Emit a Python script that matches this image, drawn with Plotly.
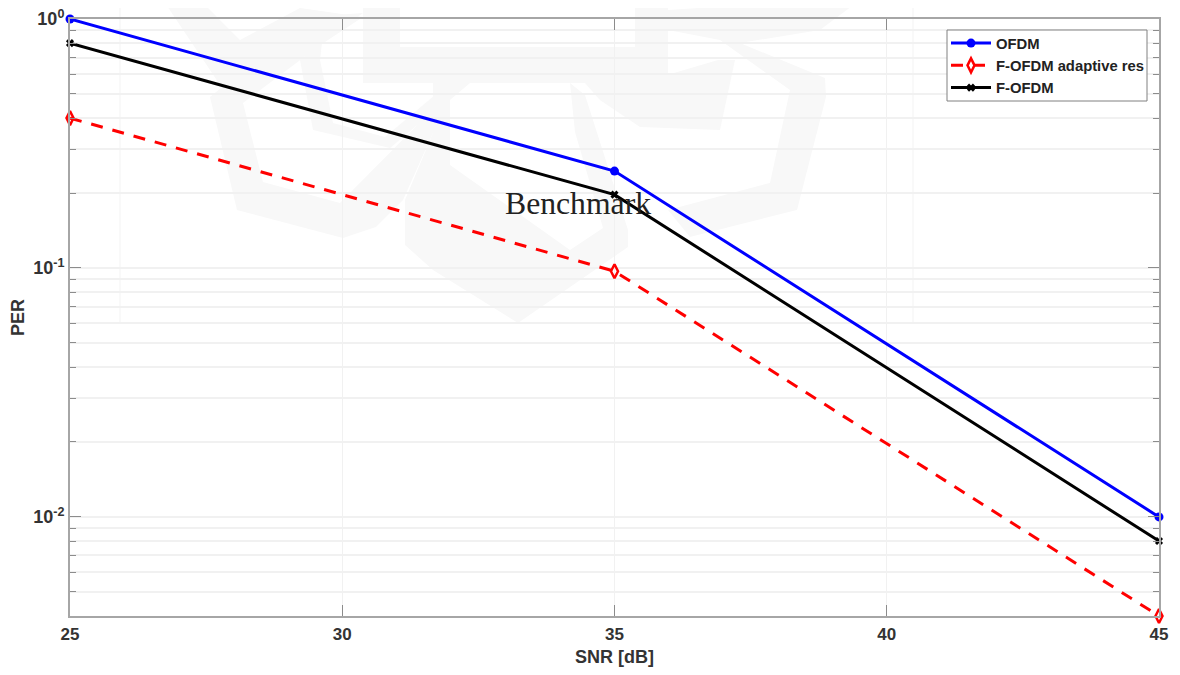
import plotly.graph_objects as go

snr = [25, 35, 45]
ofdm = [1.0, 0.245, 0.01]
f_ofdm_res = [0.40, 0.097, 0.004]
f_ofdm = [0.80, 0.197, 0.008]
x_ticks = [25, 30, 35, 40, 45]
y_ticks = [1, 0.1, 0.01]
y_labels = ["10<sup>0</sup>", "10<sup>-1</sup>", "10<sup>-2</sup>"]
names = ["OFDM", "F-OFDM adaptive res", "F-OFDM"]

W, H = 1180, 675
PAGE = 8  # the page body's own margin
L, R, T, B = 70, 1159, 19, 616
AXIS = "#a6a6a6"
TICK = "#8c8c8c"
GRID = "#f1f1f1"
WM = "#f8f8f8"
FONT = "Liberation Sans"


def px(x):
    return (x - L) / (R - L)


def py(y):
    return 1 - (y - T) / (B - T)


def poly(points):
    d = "M " + " L ".join(f"{px(x):.5f},{py(y):.5f}" for x, y in points) + " Z"
    return dict(type="path", path=d, xref="paper", yref="paper", fillcolor=WM,
                line=dict(width=0), layer="below")


# faint background emblem, traced as decoration
emblem = [
    [(163, 0), (200, 0), (240, 40), (300, 8), (363, 17), (232, 103), (210, 70)],
    [(307, 17), (363, 13), (243, 103), (263, 182), (340, 203), (447, 95), (433, 133), (403, 200), (376, 227), (343, 238), (237, 210), (210, 97)],
    [(363, 0), (400, 0), (400, 47), (635, 47), (635, 0), (668, 0), (668, 83), (363, 83)],
    [(300, 60), (322, 43), (320, 60), (333, 123), (385, 137), (447, 85), (447, 100), (390, 148), (313, 130)],
    [(433, 83), (470, 83), (450, 100), (450, 165), (570, 250), (603, 228), (575, 132), (570, 83), (585, 95), (628, 230), (628, 247), (518, 323), (433, 270), (405, 245), (405, 200), (433, 133)],
    [(668, 10), (820, 0), (860, 0), (820, 30), (740, 43), (825, 78), (826, 97), (797, 210), (690, 237), (668, 210), (770, 183), (790, 90), (720, 40), (668, 30)],
    [(585, 83), (640, 83), (718, 60), (735, 60), (720, 130), (640, 127), (600, 100)],
]

fig = go.Figure()
fig.add_trace(go.Scatter(x=snr, y=ofdm, name=names[0], mode="lines+markers",
    line=dict(color="#0000ff", width=3), cliponaxis=False,
    marker=dict(symbol="circle", size=9, color="#0000ff")))
fig.add_trace(go.Scatter(x=snr, y=f_ofdm_res, name=names[1], mode="lines+markers",
    line=dict(color="#ff0000", width=3, dash="12px,10px"), cliponaxis=False,
    marker=dict(symbol="diamond-tall-open", size=10, color="#ff0000", line=dict(width=2.5, color="#ff0000"))))
fig.add_trace(go.Scatter(x=snr, y=f_ofdm, name=names[2], mode="lines+markers",
    line=dict(color="#000000", width=3), cliponaxis=False,
    marker=dict(symbol="x-thin", size=6, color="#000000", line=dict(width=3, color="#000000"))))

fig.add_annotation(x=32.945, y=-0.743, text="Benchmark", showarrow=False, xanchor="left",
    font=dict(family="Liberation Serif", size=31.7, color="#222222"))

shapes = [poly(p) for p in emblem]
shapes += [
    dict(type="line", xref="paper", yref="paper", x0=px(120), x1=px(120), y0=py(0), y1=py(323),
         line=dict(color="#f3f3f3", width=1), layer="below"),
    dict(type="line", xref="paper", yref="paper", x0=px(913), x1=px(913), y0=py(0), y1=py(323),
         line=dict(color="#f3f3f3", width=1), layer="below"),
    dict(type="rect", xref="paper", yref="paper", x0=px(947), x1=px(1147), y0=py(30), y1=py(101),
         fillcolor="white", line=dict(color="#808080", width=1), layer="above"),
]

fig.update_layout(
    width=W - 2 * PAGE, height=H - 2 * PAGE, autosize=False, paper_bgcolor="white", plot_bgcolor="white",
    margin=dict(l=L - PAGE, r=W - PAGE - R, t=T - PAGE, b=H - PAGE - B, pad=0),
    font=dict(family=FONT, color="#333333", size=15),
    shapes=shapes,
    legend=dict(x=px(946), xanchor="left", y=py(27), yanchor="top",
        bgcolor="rgba(0,0,0,0)", borderwidth=0, itemwidth=40,
        font=dict(family=FONT, size=14.8, weight="bold", color="#222222")),
    xaxis=dict(range=[25, 45], tickvals=x_ticks, showgrid=True, gridcolor=GRID, gridwidth=1,
        ticks="inside", ticklen=11, tickcolor=TICK, showline=True, linecolor=AXIS, linewidth=2,
        mirror="allticks", zeroline=False, automargin=False, ticklabelstandoff=2,
        tickfont=dict(family=FONT, size=17, weight="bold", color="#333333"),
        title=dict(text="SNR [dB]", font=dict(family=FONT, size=18, weight="bold", color="#333333"))),
    yaxis=dict(type="log", range=[-2.398, 0], tickvals=y_ticks, ticktext=y_labels,
        showgrid=True, gridcolor=GRID, gridwidth=2,
        ticks="inside", ticklen=11, tickcolor=TICK, showline=True, linecolor=AXIS, linewidth=2,
        mirror="allticks", zeroline=False, automargin=False, ticklabeloverflow="allow",
        minor=dict(ticks="inside", ticklen=6, tickcolor=TICK, showgrid=True, gridcolor=GRID, gridwidth=2, dtick="D1"),
        tickfont=dict(family=FONT, size=18, weight="bold", color="#333333"),
        title=dict(text="PER", standoff=10, font=dict(family=FONT, size=18, weight="bold", color="#333333"))),
)
fig.write_html("out.html")
